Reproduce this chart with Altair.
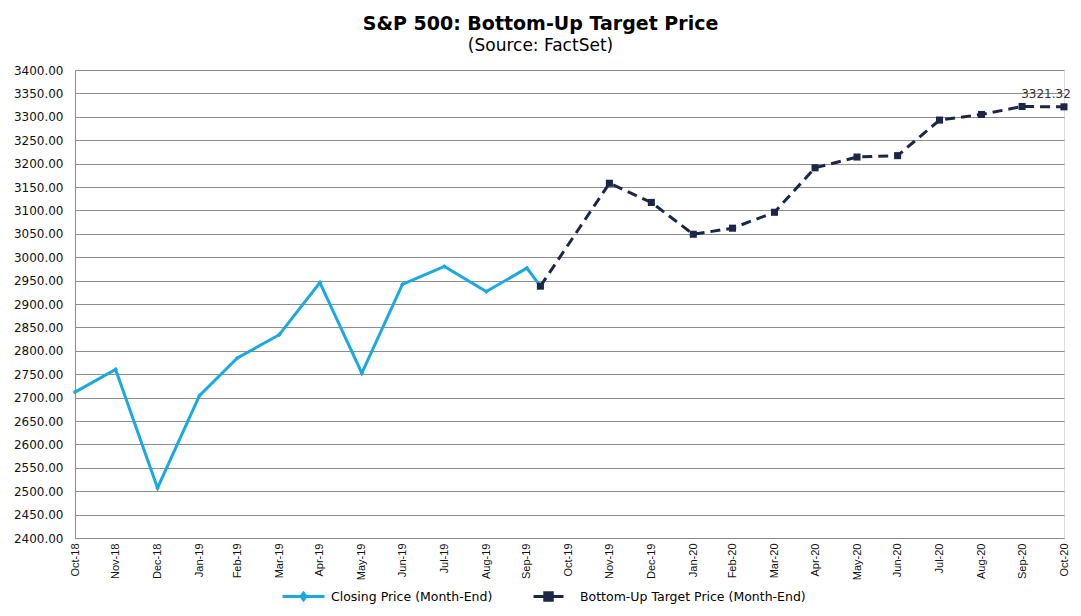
import altair as alt
import pandas as pd

# ---------------- data ----------------
CLOSE_NAME = "Closing Price (Month-End)"
TARGET_NAME = "Bottom-Up Target Price (Month-End)"

close_dates = ["2018-10-31", "2018-11-30", "2018-12-31", "2019-01-31", "2019-02-28",
               "2019-03-31", "2019-04-30", "2019-05-31", "2019-06-30", "2019-07-31",
               "2019-08-31", "2019-09-30", "2019-10-10"]
close_values = [2711.74, 2760.17, 2506.85, 2704.10, 2784.49, 2834.40, 2945.83,
                2752.06, 2941.76, 2980.38, 2926.46, 2976.74, 2938.13]

target_dates = ["2019-10-10", "2019-11-30", "2019-12-31", "2020-01-31", "2020-02-29",
                "2020-03-31", "2020-04-30", "2020-05-31", "2020-06-30", "2020-07-31",
                "2020-08-31", "2020-09-30", "2020-10-31"]
target_values = [2938.13, 3158.0, 3117.0, 3049.0, 3062.0, 3096.0, 3191.0, 3214.0,
                 3217.0, 3293.0, 3305.0, 3322.0, 3321.32]

tick_months = ["2018-10-31", "2018-11-30", "2018-12-31", "2019-01-31", "2019-02-28",
               "2019-03-31", "2019-04-30", "2019-05-31", "2019-06-30", "2019-07-31",
               "2019-08-31", "2019-09-30", "2019-10-31", "2019-11-30", "2019-12-31",
               "2020-01-31", "2020-02-29", "2020-03-31", "2020-04-30", "2020-05-31",
               "2020-06-30", "2020-07-31", "2020-08-31", "2020-09-30", "2020-10-31"]

y_ticks = [2400, 2450, 2500, 2550, 2600, 2650, 2700, 2750, 2800, 2850, 2900,
           2950, 3000, 3050, 3100, 3150, 3200, 3250, 3300, 3350, 3400]

# ---------------- styling ----------------
FONT = "DejaVu Sans"
XFONT = "Liberation Sans"
BLUE = "#1AA9E1"
NAVY = "#1C2748"
GRID = "#8c8c8c"


def to_dt(s):
    y, m, d = (int(p) for p in s.split("-"))
    return alt.DateTime(year=y, month=m, date=d)


close_df = pd.DataFrame({"date": pd.to_datetime(close_dates),
                         "value": close_values, "series": CLOSE_NAME})
target_df = pd.DataFrame({"date": pd.to_datetime(target_dates),
                          "value": target_values, "series": TARGET_NAME})
label_df = target_df.tail(1)

x = alt.X("date:T",
          scale=alt.Scale(domain=[to_dt(tick_months[0]), to_dt(tick_months[-1])]),
          axis=alt.Axis(values=[to_dt(s) for s in tick_months], format="%b-%y",
                        labelAngle=-90, labelOverlap=False, labelFlush=False,
                        grid=False, ticks=False, tickSize=0, labelPadding=5,
                        labelFont=XFONT, labelFontSize=11, labelColor="#111",
                        domainColor=GRID, domainWidth=1),
          title=None)
y = alt.Y("value:Q",
          scale=alt.Scale(domain=[2400, 3400], nice=False, zero=False),
          axis=alt.Axis(values=y_ticks, format=".2f", grid=True, gridColor=GRID,
                        gridWidth=1, ticks=False, tickSize=0, labelPadding=12,
                        labelOverlap=False, labelFont=FONT, labelFontSize=12,
                        labelColor="#111", domainColor=GRID, domainWidth=1),
          title=None)

PATH_A = "M-1,0L1,0M0,-0.16L0.12,0L0,0.16L-0.12,0Z"
PATH_B = "M-1,0L-0.35,0M0.35,0L1,0M-0.25,-0.25L0.25,-0.25L0.25,0.25L-0.25,0.25Z"

line_a = alt.Chart(close_df).mark_line(strokeWidth=3).encode(
    x=x, y=y,
    color=alt.Color("series:N",
                    scale=alt.Scale(domain=[CLOSE_NAME], range=[BLUE]),
                    legend=alt.Legend(orient="none", legendX=206, legendY=504,
                                      title=None, symbolType=PATH_A, symbolSize=1764,
                                      symbolStrokeWidth=3, symbolFillColor=BLUE,
                                      labelFont=FONT, labelFontSize=12.5, labelLimit=0,
                                      labelColor="#000", labelOffset=5, padding=0)),
)
pts_a = alt.Chart(close_df).mark_point(shape="diamond", filled=True, size=22,
                                       color=BLUE, opacity=1).encode(x=x, y=y)

line_b = alt.Chart(target_df).mark_line(strokeWidth=3, strokeDash=[10, 6]).encode(
    x=x, y=y,
    stroke=alt.Stroke("series:N",
                      scale=alt.Scale(domain=[TARGET_NAME], range=[NAVY]),
                      legend=alt.Legend(orient="none", legendX=457, legendY=510,
                                        title=None, symbolType=PATH_B, symbolSize=900,
                                        symbolStrokeWidth=3, symbolFillColor=NAVY,
                                        labelFont=FONT, labelFontSize=12.5, labelLimit=0,
                                        labelColor="#000", labelOffset=15, padding=0)),
)
pts_b = alt.Chart(target_df).mark_point(shape="square", filled=True, size=50,
                                        color=NAVY, opacity=1).encode(x=x, y=y)

label = alt.Chart(label_df).mark_text(dx=-18, dy=-13, font=FONT, fontSize=12,
                                      color="#333").encode(
    x=x, y=y, text=alt.Text("value:Q", format=".2f"))

chart = alt.layer(line_a, pts_a, line_b, pts_b, label).properties(
    width=989, height=468,
    title=alt.TitleParams(text="S&P 500: Bottom-Up Target Price",
                          subtitle="(Source: FactSet)",
                          font=FONT, fontSize=19, fontWeight="bold", color="#000",
                          subtitleFont=FONT, subtitleFontSize=17, subtitleColor="#000",
                          anchor="middle", dx=-29, offset=10, subtitlePadding=4),
    autosize=alt.AutoSizeParams(type="none"),
    padding={"left": 67, "top": 62, "right": 8, "bottom": 66},
).configure_view(stroke=None).configure(background="white")

chart.save("out.html", embed_options={"renderer": "svg", "actions": False})
